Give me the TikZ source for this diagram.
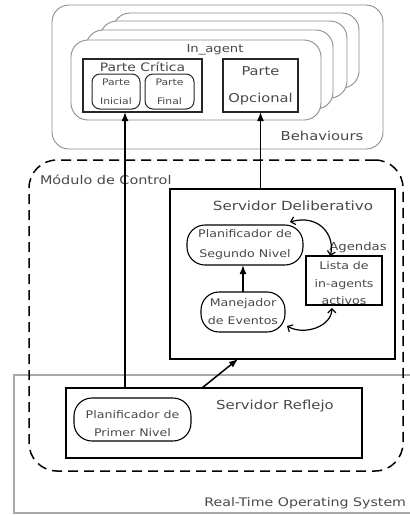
\documentclass[tikz,border=0pt]{standalone}
\usepackage{fontspec}
\setmainfont{DejaVu Sans}[FakeStretch=1.2]
\usetikzlibrary{arrows.meta,calc}

\definecolor{ink}{HTML}{484848}
\definecolor{frame}{HTML}{8C8C8C}
\definecolor{osframe}{HTML}{A8A8A8}
\newcommand\fsz[2]{\fontsize{#1}{#2}\selectfont}

\begin{document}
\begin{tikzpicture}[x=1pt,y=-1pt,
  every node/.style={inner sep=0pt, outer sep=0pt, text=ink},
  lbl/.style={font=\fsz{#1}{#1}},
  behbox/.style={draw=frame, line width=0.9pt, fill=white, rounded corners=17pt},
  agentbox/.style={draw=frame, line width=0.9pt, fill=white, rounded corners=17pt},
  partbox/.style={draw=black!85, line width=1.1pt},
  subbox/.style={draw=black!85, line width=1pt, rounded corners=8pt},
  ctrlbox/.style={draw=black, line width=1.5pt, dash pattern=on 10pt off 6pt, rounded corners=28pt},
  srvbox/.style={draw=black, line width=1.5pt},
  pill/.style={draw=black, line width=1.1pt, rounded corners=18pt},
  listbox/.style={draw=black, line width=1.1pt},
  osbox/.style={draw=osframe, line width=1.3pt},
  mainarrow/.style={draw=black, line width=1.5pt, -{Latex[length=9pt,width=7pt]}},
  curvearrow/.style={draw=black, line width=1.2pt, {Straight Barb[length=4pt,width=8pt]}-{Straight Barb[length=4pt,width=8pt]}},
]
\useasboundingbox (0,0) rectangle (410,515);

% Real-time operating system (runs off the right edge)
\node[osbox, minimum width=420pt, minimum height=138pt] (os) at (224,444) {};
\node[lbl=11.8, anchor=east] (osl) at (406,503) {Real-Time Operating System};

% Behaviours with the stack of in_agents
\node[behbox, minimum width=331pt, minimum height=144pt] (beh) at (217.5,77) {};
\node[agentbox, minimum width=246pt, minimum height=75pt] (ag4) at (236,50.5) {};
\node[agentbox, minimum width=247pt, minimum height=77pt] (ag3) at (223.5,59.5) {};
\node[agentbox, minimum width=247pt, minimum height=79pt] (ag2) at (209.5,69.5) {};
\node[agentbox, minimum width=250pt, minimum height=80pt] (ag) at (196,80) {};
\node[lbl=11] (agl) at (215,50) {In\_agent};
\node[lbl=12.3] (behl) at (322,136) {Behaviours};

\node[partbox, minimum width=119pt, minimum height=53pt] (pc) at (142.5,85.5) {};
\node[lbl=11.6] (pcl) at (142.5,67) {Parte Crítica};
\node[subbox, minimum width=48pt, minimum height=35pt, align=center, font=\fsz{9}{19}] (pi) at (116,91.5) {Parte\\Inicial};
\node[subbox, minimum width=49pt, minimum height=35pt, align=center, font=\fsz{9}{19}] (pf) at (169.5,91.5) {Parte\\Final};
\node[partbox, minimum width=75pt, minimum height=53pt, align=center, font=\fsz{12.2}{27}] (po) at (260.5,85.5) {Parte\\Opcional};

% Control module
\node[ctrlbox, minimum width=374pt, minimum height=311pt] (mc) at (216,315.5) {};
\node[lbl=12, anchor=west] (mcl) at (40,180) {Módulo de Control};

% Deliberative server
\node[srvbox, minimum width=225pt, minimum height=170pt] (sd) at (282.5,274) {};
\node[lbl=12.6] (sdl) at (293,206) {Servidor Deliberativo};
\node[pill, minimum width=116pt, minimum height=40pt, align=center, font=\fsz{10.5}{20}] (p2) at (245,245) {Planificador de\\Segundo Nivel};
\node[pill, minimum width=84pt, minimum height=40pt, align=center, font=\fsz{10.5}{18}] (me) at (243,312) {Manejador\\de Eventos};
\node[listbox, minimum width=76pt, minimum height=49pt] (li) at (344,280.5) {};
\node[align=center, font=\fsz{10.5}{17.5}] (lit) at (344,283.5) {Lista de\\in-agents\\activos};
\node[lbl=11] (agd) at (358,247) {Agendas};

% Reflex server
\node[srvbox, minimum width=296pt, minimum height=70pt] (sr) at (214,423) {};
\node[lbl=12.4] (srl) at (275,406) {Servidor Reflejo};
\node[pill, minimum width=117pt, minimum height=43pt] (p1) at (132.5,419.5) {};
\node[align=center, font=\fsz{10.5}{18}] (p1t) at (132.5,424) {Planificador de\\Primer Nivel};

% Connectors
\coordinate (ax1) at (125,0);
\coordinate (ax2) at (202,0);
\coordinate (ax3) at (238,0);
\draw[mainarrow] (sr.north -| ax1) -- (pc.south -| ax1);
\draw[mainarrow] (sd.north -| po.south) -- (po.south);
\draw[mainarrow] (sr.north -| ax2) -- (sd.south -| ax3);
\draw[mainarrow] (me.north) -- (me.north |- p2.south);
\draw[curvearrow] ($(p2.north east)+(-13,-3)$) .. controls +(28,-8) and +(5,-22) .. ($(li.north west)!0.32!(li.north east)$);
\draw[curvearrow] ($(me.south east)+(2,-6)$) .. controls +(18,10) and +(0,18) .. ($(li.south west)!0.34!(li.south east)+(0,3)$);
\end{tikzpicture}
\end{document}
